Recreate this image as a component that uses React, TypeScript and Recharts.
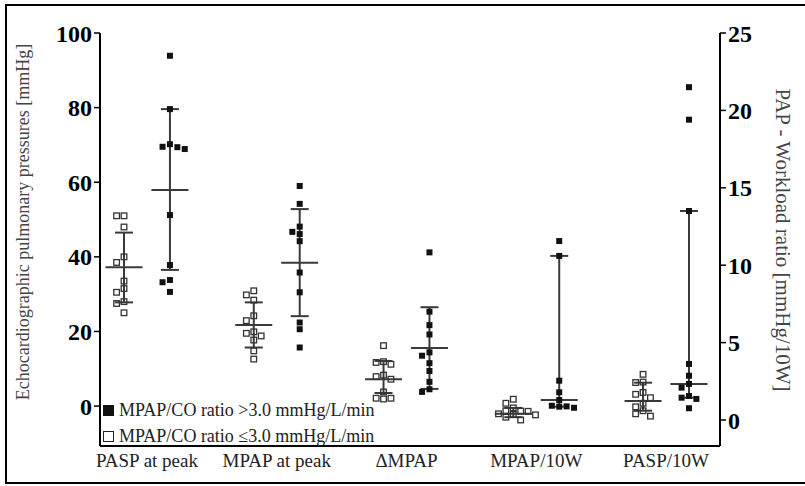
import React from "react";
import { ScatterChart, Scatter, XAxis, YAxis, ErrorBar, Legend } from "recharts";

const categories = ["PASP at peak", "MPAP at peak", "ΔMPAP", "MPAP/10W", "PASP/10W"];
const leftTicks = [0, 20, 40, 60, 80, 100];
const rightTicks = [0, 5, 10, 15, 20, 25];

// MPAP/CO ratio ≤3.0 mmHg/L/min (open squares)
const paspPeakNormal = [51, 51, 48, 40, 38.5, 33.5, 31.5, 30.5, 28, 27.5, 25];
const mpapPeakNormal = [30.9, 29.8, 28.4, 24.2, 22.9, 19.9, 19.5, 18.8, 17.7, 14.8, 12.6];
const deltaMpapNormal = [16.2, 11.9, 11.7, 11.2, 8.3, 7.9, 7.2, 3.8, 2.1, 2.1, 1.9];
const mpapWorkNormal = [1.34, 1.08, 0.78, 0.6, 0.58, 0.56, 0.4, 0.36, 0.33, 0.18, 0.0];
const paspWorkNormal = [2.95, 2.45, 2.42, 1.78, 1.66, 1.44, 1.08, 0.85, 0.6, 0.4, 0.25];

// MPAP/CO ratio >3.0 mmHg/L/min (filled squares)
const paspPeakHigh = [93.9, 79.6, 70.2, 69.5, 69.4, 68.9, 51.2, 37.8, 33.8, 33.2, 30.6];
const mpapPeakHigh = [59.0, 54.2, 48.1, 46.7, 46.1, 44.2, 35.8, 30.5, 22.4, 20.6, 15.7];
const deltaMpapHigh = [41.2, 25.3, 21.7, 19.2, 14.4, 13.5, 11.5, 9.4, 6.5, 4.5, 3.8];
const mpapWorkHigh = [11.56, 10.6, 2.54, 1.79, 1.29, 0.92, 0.88, 0.86, 0.79];
const paspWorkHigh = [21.5, 19.4, 13.5, 3.62, 2.86, 2.33, 2.09, 1.55, 1.44, 1.36, 0.76];

// summary lines (centre, lower cap, upper cap) per category
const normalCenter = [37.2, 21.7, 7.2, 0.4, 1.23];
const normalLower = [27.8, 15.7, 3.5, 0.18, 0.6];
const normalUpper = [46.5, 27.8, 12.1, 0.78, 2.41];
const highCenter = [57.9, 38.4, 15.6, 1.29, 2.33];
const highLower = [36.5, 24.1, 4.6, 0.86, 1.44];
const highUpper = [79.6, 52.8, 26.5, 10.6, 13.5];

const normalGroups = [paspPeakNormal, mpapPeakNormal, deltaMpapNormal, mpapWorkNormal, paspWorkNormal];
const highGroups = [paspPeakHigh, mpapPeakHigh, deltaMpapHigh, mpapWorkHigh, paspWorkHigh];

// layout
const W = 805;
const H = 486;
const M = { top: 33, right: 25, bottom: 10, left: 40 };
const X_DOMAIN: [number, number] = [0.638, 5.416];
const LEFT_DOMAIN: [number, number] = [-10.7, 100];
const RIGHT_DOMAIN: [number, number] = [-1.68, 25];
const PLOT_H = H - M.top - M.bottom - 30;
const PLOT_W = W - M.left - M.right - 120;
const X_PX = PLOT_W / (X_DOMAIN[1] - X_DOMAIN[0]);
const GROUP_OFFSET = 0.177;
const STEP = 7.4 / X_PX;
const FONT = "Liberation Serif";
const LINE = "#3a3a3a";

function swarmColumns(values: number[], pxPerUnit: number): number[] {
  const order = values.map((_, i) => i).sort((a, b) => values[b] - values[a]);
  const placed: { y: number; c: number }[] = [];
  const cols = values.map(() => 0);
  const tries = [0, -1, 1, 2, -2, 3, -3];
  for (const i of order) {
    const y = values[i] * pxPerUnit;
    for (const c of tries) {
      if (placed.every((p) => p.c !== c || Math.abs(p.y - y) >= 6.5)) {
        cols[i] = c;
        placed.push({ y, c });
        break;
      }
    }
  }
  return cols;
}

function pointsFor(groups: number[][], idx: number[], side: number, pxPerUnit: number) {
  const out: { x: number; y: number }[] = [];
  idx.forEach((k) => {
    const vals = groups[k];
    const cols = swarmColumns(vals, pxPerUnit);
    vals.forEach((v, i) => out.push({ x: k + 1 + side * GROUP_OFFSET + cols[i] * STEP, y: v }));
  });
  return out;
}

function summaryFor(center: number[], lower: number[], upper: number[], idx: number[], side: number) {
  return idx.map((k) => ({
    x: k + 1 + side * GROUP_OFFSET,
    y: center[k],
    err: [center[k] - lower[k], upper[k] - center[k]],
  }));
}

const leftPx = PLOT_H / (LEFT_DOMAIN[1] - LEFT_DOMAIN[0]);
const rightPx = PLOT_H / (RIGHT_DOMAIN[1] - RIGHT_DOMAIN[0]);
const leftIdx = [0, 1, 2];
const rightIdx = [3, 4];

const normalLeftPts = pointsFor(normalGroups, leftIdx, -1, leftPx);
const highLeftPts = pointsFor(highGroups, leftIdx, 1, leftPx);
const normalRightPts = pointsFor(normalGroups, rightIdx, -1, rightPx);
const highRightPts = pointsFor(highGroups, rightIdx, 1, rightPx);

const normalLeftSum = summaryFor(normalCenter, normalLower, normalUpper, leftIdx, -1);
const highLeftSum = summaryFor(highCenter, highLower, highUpper, leftIdx, 1);
const normalRightSum = summaryFor(normalCenter, normalLower, normalUpper, rightIdx, -1);
const highRightSum = summaryFor(highCenter, highLower, highUpper, rightIdx, 1);

const CenterLine = (props: any) => {
  const { cx, cy } = props;
  return <line x1={cx - 18.5} x2={cx + 18.5} y1={cy} y2={cy} stroke={LINE} strokeWidth={2} />;
};
const FilledSq = (props: any) => {
  const { cx, cy } = props;
  return <rect x={cx - 3} y={cy - 3} width={6} height={6} fill="#111" />;
};
const OpenSq = (props: any) => {
  const { cx, cy } = props;
  return <rect x={cx - 2.8} y={cy - 2.8} width={5.6} height={5.6} fill="none" stroke="#333" strokeWidth={1.3} />;
};

const LegendBox = () => (
  <div style={{ fontFamily: FONT, fontSize: 18, color: "#222", lineHeight: "26px" }}>
    <div style={{ display: "flex", alignItems: "center", whiteSpace: "nowrap" }}>
      <span style={{ display: "inline-block", width: 11, height: 11, background: "#111", marginRight: 5 }} />
      MPAP/CO ratio &gt;3.0 mmHg/L/min
    </div>
    <div style={{ display: "flex", alignItems: "center", whiteSpace: "nowrap" }}>
      <span style={{ display: "inline-block", width: 9, height: 9, border: "1.5px solid #222", marginRight: 5 }} />
      MPAP/CO ratio ≤3.0 mmHg/L/min
    </div>
  </div>
);

export default function App() {
  return (
    <div style={{ position: "absolute", left: 0, top: 0, width: W, height: H, background: "#fff" }}>
      <div
        style={{
          position: "absolute",
          left: 5,
          top: 4,
          width: 800,
          height: 476,
          borderTop: "2px solid #000",
          borderLeft: "2px solid #000",
          borderBottom: "2px solid #000",
        }}
      />
      <div style={{ position: "absolute", left: 0, top: 0 }}>
        <ScatterChart width={W} height={H} margin={M}>
          <XAxis
            type="number"
            dataKey="x"
            domain={X_DOMAIN}
            allowDataOverflow
            ticks={[1, 2, 3, 4, 5]}
            tickFormatter={(v: number) => categories[Math.round(v) - 1]}
            tickLine={false}
            axisLine={{ stroke: "#000", strokeWidth: 2 }}
            height={30}
            tick={{ fill: "#222", fontSize: 19, fontFamily: FONT }}
          />
          <YAxis
            yAxisId="left"
            type="number"
            dataKey="y"
            domain={LEFT_DOMAIN}
            allowDataOverflow
            ticks={leftTicks}
            width={60}
            tickSize={6}
            tickLine={{ stroke: "#000", strokeWidth: 1.5 }}
            axisLine={{ stroke: "#000", strokeWidth: 2 }}
            tick={{ fill: "#000", fontSize: 24, fontWeight: "bold", fontFamily: FONT }}
            label={{
              content: () => (
                <text
                  x={23}
                  y={222}
                  transform="rotate(-90 23 222)"
                  textAnchor="middle"
                  dominantBaseline="central"
                  fill="#444"
                  fontSize={18}
                  fontFamily={FONT}
                >
                  Echocardiographic pulmonary pressures [mmHg]
                </text>
              ),
            }}
          />
          <YAxis
            yAxisId="right"
            orientation="right"
            type="number"
            dataKey="y"
            domain={RIGHT_DOMAIN}
            allowDataOverflow
            ticks={rightTicks}
            width={60}
            tickSize={6}
            tickLine={{ stroke: "#000", strokeWidth: 1.5 }}
            axisLine={{ stroke: "#000", strokeWidth: 2 }}
            tick={{ fill: "#000", fontSize: 24, fontWeight: "bold", fontFamily: FONT }}
            label={{
              content: () => (
                <text
                  x={783}
                  y={240}
                  transform="rotate(90 783 240)"
                  textAnchor="middle"
                  dominantBaseline="central"
                  fill="#444"
                  fontSize={21}
                  fontFamily={FONT}
                >
                  PAP - Workload ratio [mmHg/10W]
                </text>
              ),
            }}
          />
          <Legend
            layout="vertical"
            align="center"
            verticalAlign="middle"
            wrapperStyle={{ left: 103, top: 397, width: 320 }}
            content={() => <LegendBox />}
          />
          <Scatter yAxisId="left" data={normalLeftSum} shape={CenterLine} isAnimationActive={false}>
            <ErrorBar dataKey="err" direction="y" width={9} stroke={LINE} strokeWidth={2} isAnimationActive={false} />
          </Scatter>
          <Scatter yAxisId="left" data={highLeftSum} shape={CenterLine} isAnimationActive={false}>
            <ErrorBar dataKey="err" direction="y" width={9} stroke={LINE} strokeWidth={2} isAnimationActive={false} />
          </Scatter>
          <Scatter yAxisId="right" data={normalRightSum} shape={CenterLine} isAnimationActive={false}>
            <ErrorBar dataKey="err" direction="y" width={9} stroke={LINE} strokeWidth={2} isAnimationActive={false} />
          </Scatter>
          <Scatter yAxisId="right" data={highRightSum} shape={CenterLine} isAnimationActive={false}>
            <ErrorBar dataKey="err" direction="y" width={9} stroke={LINE} strokeWidth={2} isAnimationActive={false} />
          </Scatter>
          <Scatter yAxisId="left" data={normalLeftPts} shape={OpenSq} isAnimationActive={false} />
          <Scatter yAxisId="left" data={highLeftPts} shape={FilledSq} isAnimationActive={false} />
          <Scatter yAxisId="right" data={normalRightPts} shape={OpenSq} isAnimationActive={false} />
          <Scatter yAxisId="right" data={highRightPts} shape={FilledSq} isAnimationActive={false} />
        </ScatterChart>
      </div>
    </div>
  );
}
